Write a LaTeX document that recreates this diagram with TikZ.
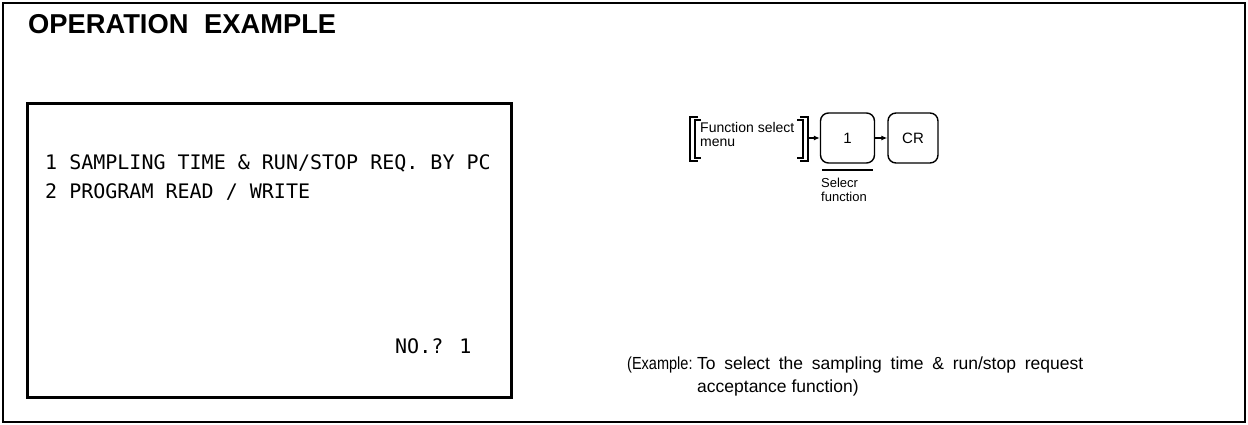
\documentclass[tikz,border=0pt]{standalone}
\usepackage{fontspec}
\setmainfont{Liberation Sans}
\newfontfamily\monofnt{DejaVu Sans Mono}
\usetikzlibrary{arrows.meta}
\tikzset{
  frame/.style={draw=black, line width=2.5pt},
  screen/.style={draw=black, line width=3pt},
  monotext/.style={anchor=base west, inner sep=0pt, font=\monofnt\fontsize{20}{24}\selectfont},
  keybox/.style={draw=black, line width=1.4pt, rounded corners=8pt, minimum height=50pt, inner sep=0pt, font=\fontsize{15}{16}\selectfont},
  brk/.style={draw=black, line width=1.1pt},
  keyarrow/.style={draw=black, line width=1.3pt, -{Latex[length=6pt,width=5pt]}},
  lbl/.style={anchor=base west, inner sep=0pt, align=left},
  extext/.style={lbl, font=\fontsize{17.5}{23}\selectfont},
}
\begin{document}
\begin{tikzpicture}[x=1pt,y=-1pt]
\useasboundingbox (0,0) rectangle (1248,425);
% outer frame
\draw[frame] (3,3) rectangle (1245,422);
\node[lbl, font=\bfseries\fontsize{27.3}{30}\selectfont] (title) at (28,33.5) {OPERATION\hspace{0.3em} EXAMPLE};
% screen
\draw[screen] (27,104) rectangle (511,397);
\node[monotext] (l1) at (45,169) {1 SAMPLING TIME \& RUN/STOP REQ. BY PC};
\node[monotext] (l2) at (45,198) {2 PROGRAM READ / WRITE};
\node[monotext] (l3) at (395,353) {NO.? 1};
% key sequence
\node[lbl, font=\fontsize{14}{14}\selectfont] (menu) at (700,147) {Function select\\menu};
\draw[brk] (698,117) -| (690,161) -- (698,161);
\draw[brk] (701,120) -| (695,158) -- (701,158);
\draw[brk] (800,117) -| (808,161) -- (800,161);
\draw[brk] (797,120) -| (803,158) -- (797,158);
\coordinate (mout) at (808,138);
\node[keybox, minimum width=54pt] (k1) at (847.5,138) {1};
\node[keybox, minimum width=50pt] (kcr) at (913,138) {CR};
\draw[keyarrow] (mout) -- (k1.west);
\draw[keyarrow] (k1.east) -- (kcr.west);
\coordinate (ul1) at (822,170);
\coordinate (ul2) at (873,170);
\draw[line width=1.1pt] (ul1) -- (ul2);
\node[lbl, font=\fontsize{13}{14}\selectfont] (sel) at (821,201) {Selecr\\function};
% example text
\node[extext] (ex1) at (627,369) {\scalebox{0.83}[1]{(Example:}};
\node[extext] (ex2) at (697,392) {\makebox[386pt][s]{To select the sampling time \& run/stop request}\\acceptance function)};
\end{tikzpicture}
\end{document}
